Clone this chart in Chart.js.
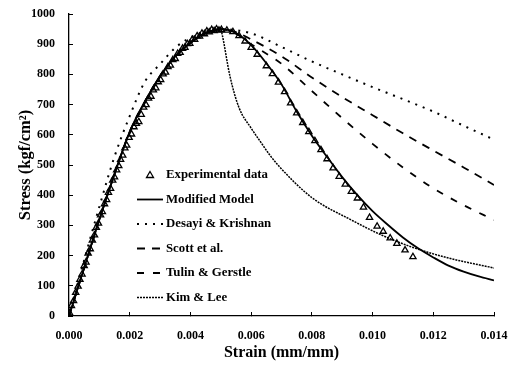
<!DOCTYPE html>
<html>
<head>
<meta charset="utf-8">
<script src="https://cdn.jsdelivr.net/npm/chart.js@4/dist/chart.umd.min.js"></script>
<style>
html,body{margin:0;padding:0;background:#fff;}
#wrap{width:511px;height:370px;position:relative;}
</style>
</head>
<body>
<div id="wrap"><canvas id="c" width="511" height="370"></canvas></div>
<script>
// ---- Data ----
const xTicks = [0, 0.002, 0.004, 0.006, 0.008, 0.010, 0.012, 0.014];
const yTicks = [0,100,200,300,400,500,600,700,800,900,1000];

const expStrain = [0.00002,0.00008,0.00015,0.00022,0.0003,0.00036,0.00043,0.0005,0.00056,0.00063,0.0007,0.00077,0.00084,0.0009,0.00097,0.00104,0.0011,0.00117,0.00124,0.0013,0.00137,0.00144,0.0015,0.00157,0.00164,0.0017,0.00177,0.00184,0.0019,0.00198,0.00206,0.00214,0.00222,0.0023,0.00238,0.00246,0.00254,0.00262,0.0027,0.00278,0.00286,0.00294,0.00302,0.0031,0.00318,0.00326,0.00334,0.00342,0.0035,0.00358,0.00366,0.00374,0.00382,0.0039,0.00398,0.00406,0.00414,0.00422,0.0043,0.00438,0.00446,0.00454,0.00462,0.0047,0.00478,0.00486,0.00494,0.00502,
 0.0052,0.0054,0.0056,0.0058,0.006,0.0062,0.0065,0.0067,0.0069,0.0071,0.0073,0.0075,0.0077,0.0079,0.0081,0.0083,0.0085,0.0087,0.0089,0.0091,0.0093,0.0095,0.0097,0.0099,0.01015,0.01035,0.01058,0.0108,0.01107,0.01133];
const expStress = [10,34,50,78,98,121,138,166,178,208,222,251,268,293,307,334,345,371,385,409,422,449,460,483,497,518,532,556,565,591,602,626,637,643,667,691,699,721,727,748,755,775,782,801,807,825,830,848,852,869,872,886,889,901,902,915,915,927,926,936,934,943,940,948,944,950,946,948,
 946,941,928,910,889,866,828,802,774,742,705,672,640,610,580,550,520,490,462,436,412,390,360,326,297,280,258,240,218,196];

const modStrain = [0,0.0005,0.001,0.0015,0.002,0.0025,0.003,0.0035,0.004,0.0045,0.005,0.0055,0.006,0.0065,0.007,0.0075,0.008,0.0085,0.009,0.0095,0.010,0.0105,0.011,0.0115,0.012,0.0125,0.013,0.0135,0.014];
const modStress  = [0,160,320,470,610,710,795,860,905,937,950,937,897,837,767,677,597,527,460,400,347,302,260,224,194,167,147,131,118];

const desStrain = [0,0.0005,0.001,0.0015,0.002,0.0025,0.003,0.0035,0.004,0.0045,0.005,0.006,0.007,0.008,0.009,0.010,0.011,0.012,0.013,0.014];
const desStress = [0,185,362,528,662,776,834,888,922,942,950,936,891,843,800,758,718,677,630,584];

const scoStrain = [0,0.0005,0.001,0.0015,0.002,0.0025,0.003,0.0035,0.004,0.0045,0.005,0.0055,0.006,0.007,0.008,0.009,0.010,0.011,0.012,0.013,0.014];
const scoStress = [0,160,320,470,610,710,795,860,905,937,950,940,916,860,790,725,665,605,548,492,434];

const tulStrain = [0,0.0005,0.001,0.0015,0.002,0.0025,0.003,0.0035,0.004,0.0045,0.005,0.0055,0.006,0.007,0.008,0.009,0.010,0.011,0.012,0.013,0.014];
const tulStress = [0,160,320,470,610,710,795,860,905,937,950,935,900,835,745,655,570,492,423,367,318];

const kimStrain = [0,0.0005,0.001,0.0015,0.002,0.0025,0.003,0.0035,0.004,0.0045,0.005,0.00505,0.0053,0.0056,0.006,0.0063,0.0066,0.0069,0.008,0.0093,0.0103,0.0113,0.0125,0.014];
const kimStress = [0,158,318,468,608,708,793,858,903,935,948,930,795,690,622,578,535,498,392,318,268,228,192,159];

const seriesLabels = ['Experimental data','Modified Model','Desayi & Krishnan','Scott et al.','Tulin & Gerstle','Kim & Lee'];

function pts(xs, ys){ return xs.map((x,i)=>({x:x, y:ys[i]})); }

const FONT = "'Liberation Serif','Times New Roman',serif";

const legendPlugin = {
  id:'inLegend',
  afterDatasetsDraw(chart){
    const ctx = chart.ctx;
    const x0 = 137, x1 = 163, tx = 166, y0 = 175, dy = 24.5;
    ctx.save();
    chart.data.datasets.forEach((ds,i)=>{
      const y = y0 + i*dy;
      ctx.strokeStyle = '#000';
      ctx.fillStyle = '#000';
      if (ds.showLine === false){
        ctx.setLineDash([]);
        ctx.lineWidth = 1.3;
        ctx.beginPath();
        ctx.moveTo(150, y-3.5); ctx.lineTo(153.5, y+2.5); ctx.lineTo(146.5, y+2.5); ctx.closePath();
        ctx.stroke();
      } else {
        ctx.lineWidth = ds.borderWidth;
        ctx.strokeStyle = ds.borderColor;
        ctx.setLineDash(ds.borderDash || []);
        ctx.beginPath(); ctx.moveTo(x0,y); ctx.lineTo(x1,y); ctx.stroke();
      }
      ctx.setLineDash([]);
      ctx.fillStyle = '#000';
      ctx.font = "bold 12.8px " + FONT;
      ctx.textBaseline = 'middle';
      ctx.textAlign = 'left';
      ctx.fillText(ds.label, tx, y);
    });
    ctx.restore();
  }
};

new Chart(document.getElementById('c'), {
  type:'scatter',
  data:{
    datasets:[
      {label:seriesLabels[0], data:pts(expStrain,expStress), showLine:false, pointStyle:'triangle', pointRadius:3.6, borderColor:'#000', backgroundColor:'rgba(255,255,255,0)', borderWidth:1.3, order:0},
      {label:seriesLabels[1], data:pts(modStrain,modStress), showLine:true, pointRadius:0, borderColor:'#000', borderWidth:1.8, cubicInterpolationMode:'monotone', order:1},
      {label:seriesLabels[2], data:pts(desStrain,desStress), showLine:true, pointRadius:0, borderColor:'#000', borderWidth:2, borderDash:[2,6], cubicInterpolationMode:'monotone', order:2},
      {label:seriesLabels[3], data:pts(scoStrain,scoStress), showLine:true, pointRadius:0, borderColor:'#000', borderWidth:1.8, borderDash:[8,7], cubicInterpolationMode:'monotone', order:3},
      {label:seriesLabels[4], data:pts(tulStrain,tulStress), showLine:true, pointRadius:0, borderColor:'#000', borderWidth:1.8, borderDash:[7,9], cubicInterpolationMode:'monotone', order:4},
      {label:seriesLabels[5], data:pts(kimStrain,kimStress), showLine:true, pointRadius:0, borderColor:'#000', borderWidth:1.5, borderDash:[2,1], cubicInterpolationMode:'monotone', order:5}
    ]
  },
  options:{
    responsive:false,
    animation:false,
    events:[],
    layout:{padding:{left:0,right:17,top:14,bottom:0}},
    plugins:{legend:{display:false}, tooltip:{enabled:false}},
    scales:{
      x:{
        type:'linear', min:0, max:0.014,
        afterBuildTicks(s){ s.ticks = xTicks.map(v=>({value:v})); },
        afterFit(s){ s.height = 54; s.paddingLeft = 0; s.paddingRight = 0; },
        border:{display:true, color:'#000', width:1.3},
        grid:{display:true, drawOnChartArea:false, drawTicks:true, tickLength:-4, color:'#000'},
        ticks:{color:'#000', padding:17, maxRotation:0, font:{family:FONT, weight:'bold', size:12}, callback:v=>Number(v).toFixed(3)},
        title:{display:true, text:'Strain (mm/mm)', color:'#000', padding:{top:0,bottom:8}, font:{family:FONT, weight:'bold', size:16}}
      },
      y:{
        type:'linear', min:0, max:1000,
        afterBuildTicks(s){ s.ticks = yTicks.map(v=>({value:v})); },
        afterFit(s){ s.width = 69; s.paddingTop = 0; s.paddingBottom = 0; },
        border:{display:true, color:'#000', width:1.3},
        grid:{display:true, drawOnChartArea:false, drawTicks:true, tickLength:-4, color:'#000'},
        ticks:{color:'#000', padding:18, font:{family:FONT, weight:'bold', size:12}, callback:v=>String(v)},
        title:{display:true, text:'Stress (kgf/cm²)', color:'#000', padding:{top:16,bottom:4}, font:{family:FONT, weight:'bold', size:16.5}}
      }
    }
  },
  plugins:[legendPlugin]
});
</script>
</body>
</html>
